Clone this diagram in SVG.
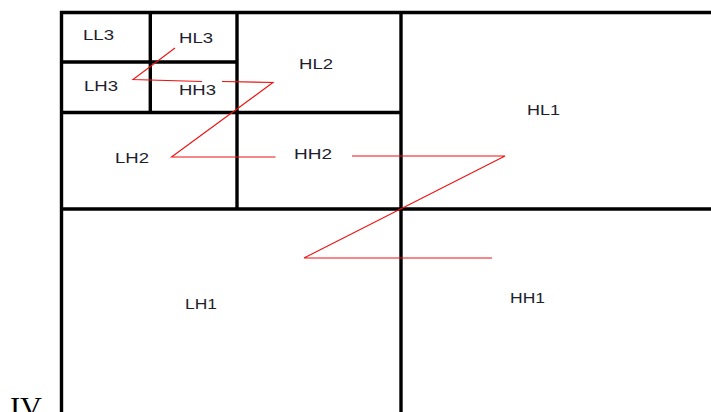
<svg xmlns="http://www.w3.org/2000/svg" width="711" height="412" viewBox="0 0 711 412">
<style>
.grid{stroke:#000;stroke-width:3.4;fill:none}
.z{stroke:#f01010;stroke-width:1.1;fill:none}
.lbl{font-family:"Liberation Sans",Arial,sans-serif;font-size:15.5px;fill:#1e1e2e}
</style>
<rect width="711" height="412" fill="#fff"/>
<g id="grid">
<path class="grid" d="M61.5 412V12.5H711"/>
<path class="grid" d="M61.5 62H237M61.5 112.5H401M61.5 209H711"/>
<path class="grid" d="M150.3 12.5V112.5"/>
<path class="grid" d="M237 12.5V209" stroke-width="3.8"/>
<path class="grid" d="M401 12.5V412" stroke-width="4.2"/>
</g>
<g id="connectors">
<path class="z" d="M175 48L133 79.5L202 81.5"/>
<path class="z" d="M222 81.5L273 82.5L171.5 157H275.5"/>
<path class="z" d="M352 156H505L304 258H492"/>
</g>
<g id="LL3"><text class="lbl" x="83" y="40" textLength="31" lengthAdjust="spacingAndGlyphs">LL3</text></g>
<g id="HL3"><text class="lbl" x="179" y="42.5" textLength="34" lengthAdjust="spacingAndGlyphs">HL3</text></g>
<g id="LH3"><text class="lbl" x="84" y="91" textLength="34" lengthAdjust="spacingAndGlyphs">LH3</text></g>
<g id="HH3"><text class="lbl" x="179" y="95" textLength="37" lengthAdjust="spacingAndGlyphs">HH3</text></g>
<g id="HL2"><text class="lbl" x="299" y="68.5" textLength="34" lengthAdjust="spacingAndGlyphs">HL2</text></g>
<g id="LH2"><text class="lbl" x="115" y="163" textLength="34" lengthAdjust="spacingAndGlyphs">LH2</text></g>
<g id="HH2"><text class="lbl" x="294" y="158.5" textLength="38" lengthAdjust="spacingAndGlyphs">HH2</text></g>
<g id="HL1"><text class="lbl" x="527" y="115" textLength="33" lengthAdjust="spacingAndGlyphs">HL1</text></g>
<g id="LH1"><text class="lbl" x="185" y="309" textLength="32" lengthAdjust="spacingAndGlyphs">LH1</text></g>
<g id="HH1"><text class="lbl" x="510" y="303" textLength="35" lengthAdjust="spacingAndGlyphs">HH1</text></g>
<text x="10" y="417" font-family="'Liberation Serif','Times New Roman',serif" font-size="29" textLength="32" lengthAdjust="spacingAndGlyphs" fill="#000">IV</text>
</svg>
